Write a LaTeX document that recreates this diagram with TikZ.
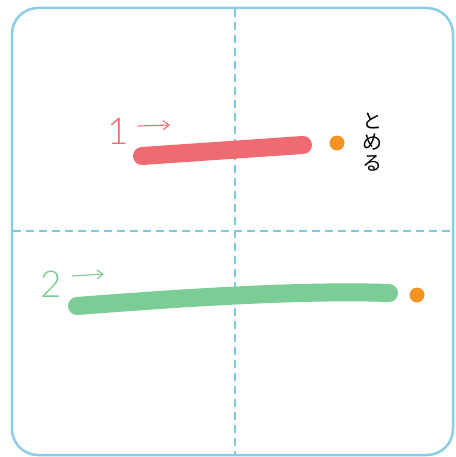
\documentclass[tikz,border=0pt]{standalone}
\usepackage{fontspec}
\newfontfamily\jpfont{Noto Sans CJK JP}
\newfontfamily\numfont{Lato Light}
\usetikzlibrary{arrows.meta}
\definecolor{frameblue}{HTML}{8CCDE6}
\definecolor{dashblue}{HTML}{7FC9DE}
\definecolor{redstroke}{HTML}{EE6B72}
\definecolor{greenstroke}{HTML}{7CCC95}
\definecolor{dotorange}{HTML}{F39323}
\tikzset{
  guide/.style={dashblue, line width=1.2pt, dash pattern=on 8pt off 5pt},
  brush/.style={line width=18pt, line cap=round},
  dotmark/.style={circle, fill=dotorange, inner sep=0pt, minimum size=15pt},
  numlabel/.style={font=\numfont\fontsize{37}{37}\selectfont, inner sep=0pt},
  dirarrow/.style={line width=1.1pt, -{Straight Barb[length=6pt,width=9pt]}},
}
\begin{document}
\begin{tikzpicture}[x=1pt,y=-1pt]
\useasboundingbox (0,0) rectangle (455,457);
\fill[white] (0,0) rectangle (455,457);
\draw[frameblue, line width=2.5pt, rounded corners=26pt] (12,8) rectangle (453,455);
\draw[guide] (235,9) -- (235,454);
\draw[guide] (13,231) -- (452,231);
% stroke 1
\coordinate (r1) at (142,156);
\coordinate (r2) at (303,145);
\draw[brush, redstroke] (r1) -- (r2);
\node[dotmark] (d1) at (337,143) {};
\node[numlabel, text=redstroke] (n1) at (118,131) {1};
\coordinate (a1s) at (138,126);
\coordinate (a1e) at (170,125);
\draw[dirarrow, redstroke] (a1s) -- (a1e);
\node[font=\jpfont\fontsize{20}{21}\selectfont, text width=22pt, align=center, inner sep=0pt] (tm) at (372,142) {と\\め\\る};
% stroke 2
\coordinate (g1) at (77,306);
\coordinate (g2) at (389,293);
\draw[brush, greenstroke] (g1) .. controls (180,298) and (300,290) .. (g2);
\node[dotmark] (d2) at (417,295) {};
\node[numlabel, text=greenstroke] (n2) at (51,284) {2};
\coordinate (a2s) at (72,276);
\coordinate (a2e) at (104,274);
\draw[dirarrow, greenstroke] (a2s) -- (a2e);
\end{tikzpicture}
\end{document}
